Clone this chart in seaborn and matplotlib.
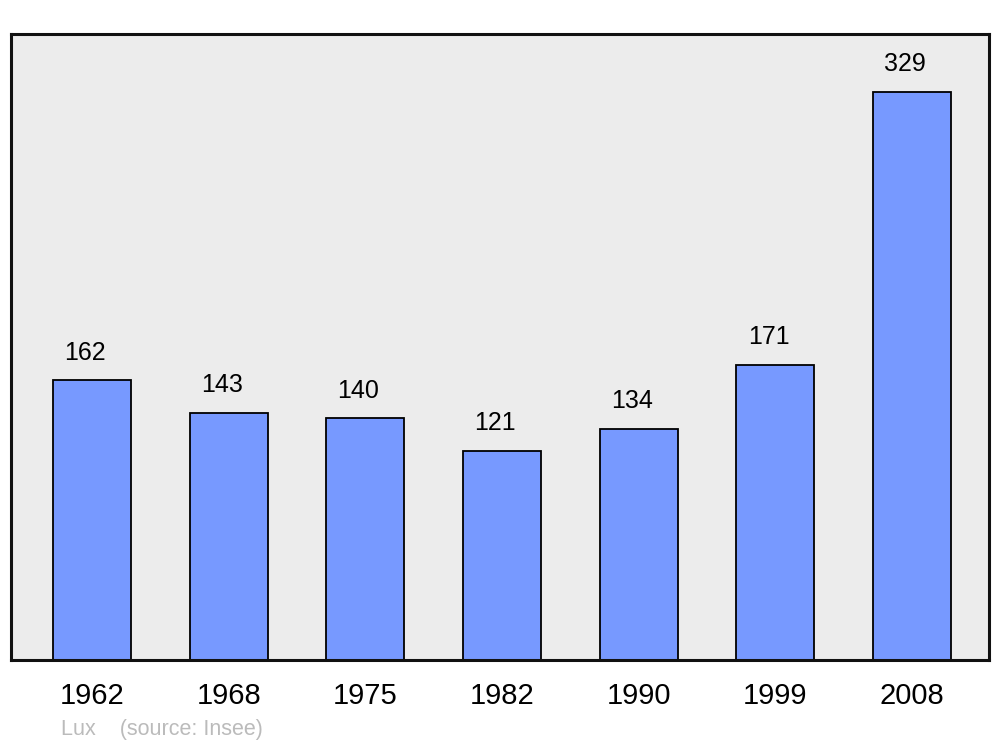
import matplotlib
matplotlib.use("Agg")
import matplotlib.pyplot as plt
import seaborn as sns
import pandas as pd

# Datos de población
annees = ["1962", "1968", "1975", "1982", "1990", "1999", "2008"]
population = [162, 143, 140, 121, 134, 171, 329]

df = pd.DataFrame({"Année": annees, "Population": population})

sns.set_style("white")
plt.rcParams["font.family"] = ["Liberation Sans", "DejaVu Sans"]

fig = plt.figure(figsize=(10, 7.47), dpi=100)
ax = fig.add_axes([0.011, 1 - 660 / 747, 0.978, 626 / 747])
ax.set_facecolor("#ececec")

sns.barplot(data=df, x="Année", y="Population", color="#7799ff",
            saturation=1, width=0.57, edgecolor="black", linewidth=1.3, ax=ax)

for i, v in enumerate(population):
    ax.text(i - 0.05, v + 16, str(v), ha="center", va="center",
            fontsize=18, color="black")

ax.set_xlim(-0.593, 6.563)
ax.set_ylim(0, 362.6)
ax.set_yticks([])
ax.set_xlabel("")
ax.set_ylabel("")
ax.tick_params(axis="x", length=0, labelsize=21, pad=16, labelcolor="black")
for s in ax.spines.values():
    s.set_linewidth(2.2)
    s.set_color("#111111")

fig.text(0.061, 1 - 730 / 747, "Lux    (source: Insee)", fontsize=15.5,
         color="#bbbbbb", va="center", ha="left")

fig.savefig("out.png", dpi=100)
